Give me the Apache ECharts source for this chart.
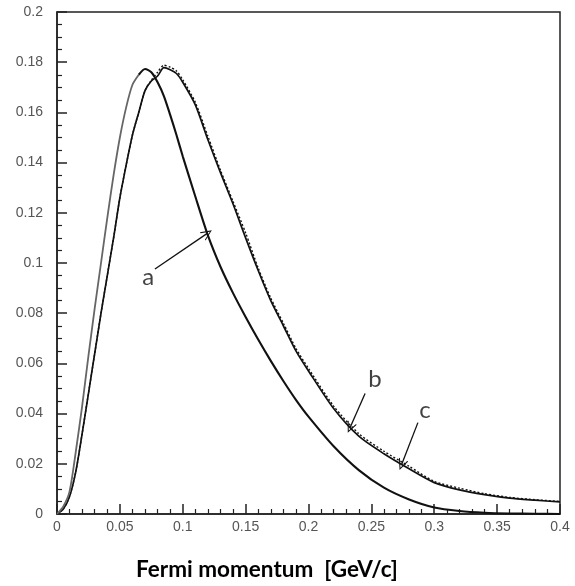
<!DOCTYPE html>
<html>
<head>
<meta charset="utf-8">
<script src="https://cdn.jsdelivr.net/npm/echarts@6/dist/echarts.min.js"></script>
<style>
  html, body { margin: 0; padding: 0; background: #fff; }
  #chart { width: 575px; height: 586px; }
</style>
</head>
<body>
<div id="chart"></div>
<script>
// Fermi momentum grid (GeV/c)
const momentum = [0, 0.005, 0.01, 0.015, 0.02, 0.025, 0.03, 0.035, 0.04, 0.045, 0.05, 0.055, 0.06, 0.065, 0.07, 0.075, 0.08, 0.085, 0.09, 0.095, 0.1, 0.11, 0.12, 0.13, 0.14, 0.15, 0.16, 0.17, 0.18, 0.19, 0.2, 0.22, 0.24, 0.26, 0.28, 0.3, 0.32, 0.34, 0.36, 0.38, 0.4];
// curve a (solid, heavy)
const curveA = [0, 0.003, 0.009, 0.025, 0.043, 0.063, 0.082, 0.100, 0.118, 0.135, 0.150, 0.162, 0.171, 0.175, 0.1773, 0.176, 0.172, 0.1665, 0.159, 0.151, 0.1425, 0.1265, 0.111, 0.0985, 0.088, 0.0785, 0.0695, 0.061, 0.053, 0.0455, 0.0388, 0.027, 0.0175, 0.0105, 0.0058, 0.0026, 0.0012, 0.0005, 0.0002, 0.0001, 0];
// curve b (solid)
const curveB = [0, 0.002, 0.007, 0.017, 0.032, 0.048, 0.064, 0.080, 0.095, 0.110, 0.126, 0.139, 0.151, 0.160, 0.1687, 0.1725, 0.1745, 0.1778, 0.177, 0.1755, 0.172, 0.163, 0.1491, 0.136, 0.1235, 0.110, 0.097, 0.085, 0.075, 0.065, 0.057, 0.042, 0.031, 0.024, 0.018, 0.0125, 0.0096, 0.0077, 0.0063, 0.0055, 0.0048];
// curve c (dotted)
const curveC = [0, 0.002, 0.007, 0.017, 0.032, 0.048, 0.064, 0.080, 0.095, 0.110, 0.126, 0.139, 0.151, 0.160, 0.1687, 0.1728, 0.176, 0.1788, 0.178, 0.1765, 0.173, 0.164, 0.1505, 0.137, 0.1245, 0.112, 0.098, 0.086, 0.076, 0.066, 0.058, 0.043, 0.032, 0.025, 0.019, 0.013, 0.0103, 0.0081, 0.0066, 0.0057, 0.005];

// annotation labels and arrows (data coordinates)
const labelNames = ['a', 'b', 'c'];
const labelPos = [[0.0726, 0.0944], [0.2529, 0.0536], [0.2927, 0.0412]];
const arrowFrom = [[0.0779, 0.0976], [0.245, 0.048], [0.287, 0.0364]];
const arrowTo = [[0.1195, 0.1118], [0.233, 0.0344], [0.274, 0.0196]];

const pairs = vals => momentum.map((x, i) => [x, vals[i]]);
// curve a: rising flank drawn lighter (as in the original scan), falling flank dark
const splitAt = momentum.indexOf(0.065);
const aRise = pairs(curveA).slice(0, splitAt + 1);
const aFall = pairs(curveA).slice(splitAt);

const chevron = 'path://M0,12 L6,0 L12,12 L10.6,12 L6,2.6 L1.4,12 Z';

const chart = echarts.init(document.getElementById('chart'), null, { renderer: 'canvas' });

const axisLabelStyle = { color: '#555', fontFamily: 'Liberation Sans, Arial, sans-serif', fontSize: 14 };

chart.setOption({
  animation: false,
  backgroundColor: '#fff',
  grid: { left: 57, right: 15, top: 12, bottom: 57, show: true, borderColor: '#222', borderWidth: 1.5, backgroundColor: 'transparent' },
  xAxis: {
    type: 'value', min: 0, max: 0.4, interval: 0.05,
    name: 'Fermi momentum  [GeV/c]', nameLocation: 'middle', nameGap: 44,
    nameTextStyle: { color: '#000', fontFamily: 'Lato, sans-serif', fontWeight: 'bold', fontSize: 22.5, padding: [0, 83, 0, 0] },
    axisLine: { show: true, onZero: false, lineStyle: { color: '#222', width: 1.5 } },
    axisTick: { show: true, inside: true, length: 10, lineStyle: { color: '#222', width: 1.5 } },
    minorTick: { show: true, splitNumber: 5, length: 5, lineStyle: { color: '#222', width: 1.2 } },
    splitLine: { show: false },
    axisLabel: Object.assign({ margin: 6, formatter: v => String(+v.toFixed(2)) }, axisLabelStyle)
  },
  yAxis: {
    type: 'value', min: 0, max: 0.2, interval: 0.02,
    axisLine: { show: true, onZero: false, lineStyle: { color: '#222', width: 1.5 } },
    axisTick: { show: true, inside: true, length: 10, lineStyle: { color: '#222', width: 1.5 } },
    minorTick: { show: true, splitNumber: 4, length: 5, lineStyle: { color: '#222', width: 1.2 } },
    splitLine: { show: false },
    axisLabel: Object.assign({ margin: 14, formatter: v => String(+v.toFixed(2)) }, axisLabelStyle)
  },
  series: [
    {
      name: 'a', type: 'line', data: aRise, showSymbol: false, smooth: 0.25,
      lineStyle: { color: '#666', width: 1.8 }, itemStyle: { color: '#666' }, z: 3
    },
    {
      name: 'a ', type: 'line', data: aFall, showSymbol: false, smooth: 0.25,
      lineStyle: { color: '#111', width: 2.1 }, itemStyle: { color: '#111' }, z: 3
    },
    {
      name: 'b', type: 'line', data: pairs(curveB), showSymbol: false, smooth: 0.25,
      lineStyle: { color: '#111', width: 1.7 }, itemStyle: { color: '#111' }, z: 2
    },
    {
      name: 'c', type: 'line', data: pairs(curveC), showSymbol: false, smooth: 0.25,
      lineStyle: { color: '#111', width: 1.4, type: [2, 2] }, itemStyle: { color: '#111' }, z: 2,
      markLine: {
        silent: true, animation: false,
        symbol: ['none', chevron], symbolSize: [10, 11],
        label: { show: false },
        lineStyle: { color: '#111', width: 1.3, type: 'solid' },
        data: arrowFrom.map((p, i) => [{ coord: p }, { coord: arrowTo[i] }])
      }
    },
    {
      name: 'labels', type: 'scatter', symbolSize: 0,
      data: labelPos.map((p, i) => ({ value: p, name: labelNames[i] })),
      itemStyle: { color: '#111' },
      label: { show: true, position: 'inside', formatter: p => p.name, color: '#111', fontFamily: 'Lato, sans-serif', fontSize: 24 },
      z: 5
    }
  ]
});
</script>
</body>
</html>
